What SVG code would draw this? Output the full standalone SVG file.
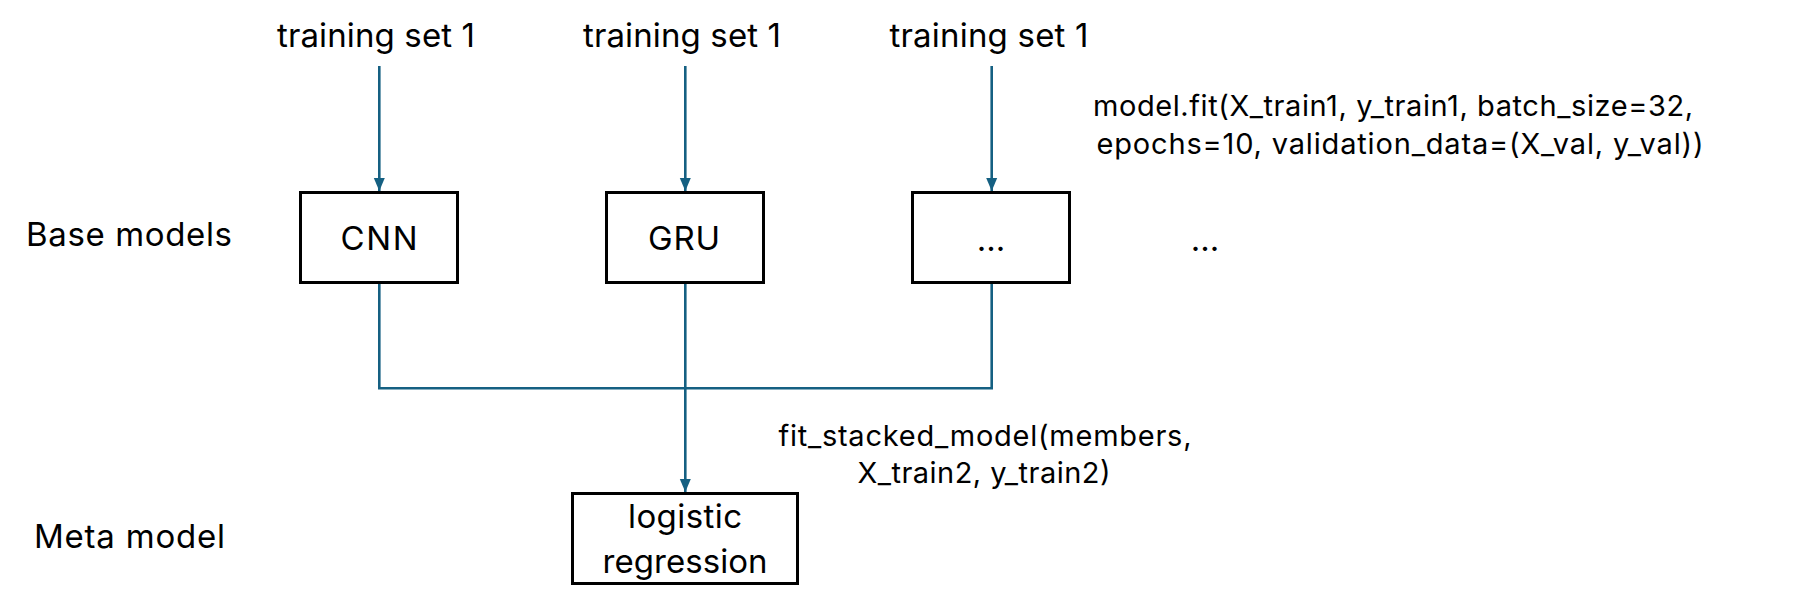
<svg xmlns="http://www.w3.org/2000/svg" width="1799" height="608" viewBox="0 0 1799 608">
<style>
  text { font-family: Inter, "Liberation Sans", sans-serif; fill: #000; }
  .lbl { font-size: 33px; }
  .code { font-size: 29px; }
  .box { fill: #fff; stroke: #000; stroke-width: 3; }
  .wire { fill: none; stroke: #156082; stroke-width: 2.6; }
</style>
<defs>
  <marker id="arr" viewBox="0 0 13 12" markerWidth="13" markerHeight="12" markerUnits="userSpaceOnUse" refX="13" refY="6" orient="auto">
    <path d="M0,0.5 L13,6 L0,11.5 z" fill="#156082"/>
  </marker>
</defs>
<rect width="1799" height="608" fill="#fff"/>

<g id="labels">
  <text class="lbl" x="26" y="246" textLength="206">Base models</text>
  <text class="lbl" x="34" y="548" textLength="191">Meta model</text>
  <text class="lbl" x="1205" y="251" text-anchor="middle">...</text>
</g>

<g id="inputs">
  <text class="lbl" x="376" y="47" text-anchor="middle" textLength="198">training set 1</text>
  <text class="lbl" x="682" y="47" text-anchor="middle" textLength="198">training set 1</text>
  <text class="lbl" x="989" y="47" text-anchor="middle" textLength="199">training set 1</text>
</g>

<g id="connectors">
  <line class="wire" x1="379.3" y1="66" x2="379.3" y2="191" marker-end="url(#arr)"/>
  <line class="wire" x1="685.3" y1="66" x2="685.3" y2="191" marker-end="url(#arr)"/>
  <line class="wire" x1="991.7" y1="66" x2="991.7" y2="191" marker-end="url(#arr)"/>
  <polyline class="wire" points="379.3,284 379.3,388.3 991.7,388.3 991.7,284"/>
  <line class="wire" x1="685.3" y1="284" x2="685.3" y2="492" marker-end="url(#arr)"/>
</g>

<g id="node-cnn">
  <rect class="box" x="300.5" y="192.5" width="157" height="90"/>
  <text class="lbl" x="379" y="250" text-anchor="middle" textLength="77">CNN</text>
</g>

<g id="node-gru">
  <rect class="box" x="606.5" y="192.5" width="157" height="90"/>
  <text class="lbl" x="684" y="250" text-anchor="middle" textLength="72">GRU</text>
</g>

<g id="node-more">
  <rect class="box" x="912.5" y="192.5" width="157" height="90"/>
  <text class="lbl" x="991" y="251" text-anchor="middle">...</text>
</g>

<g id="node-meta">
  <rect class="box" x="572.5" y="493.5" width="225" height="90"/>
  <text class="lbl" x="685" y="528" text-anchor="middle" textLength="114">logistic</text>
  <text class="lbl" x="685" y="573" text-anchor="middle" textLength="165">regression</text>
</g>

<g id="note-fit">
  <text class="code" x="1393" y="116" text-anchor="middle" textLength="600">model.fit(X_train1, y_train1, batch_size=32,</text>
  <text class="code" x="1400" y="154" text-anchor="middle" textLength="607">epochs=10, validation_data=(X_val, y_val))</text>
</g>

<g id="note-stack">
  <text class="code" x="985" y="446" text-anchor="middle" textLength="413">fit_stacked_model(members,</text>
  <text class="code" x="984" y="483" text-anchor="middle" textLength="253">X_train2, y_train2)</text>
</g>
</svg>
